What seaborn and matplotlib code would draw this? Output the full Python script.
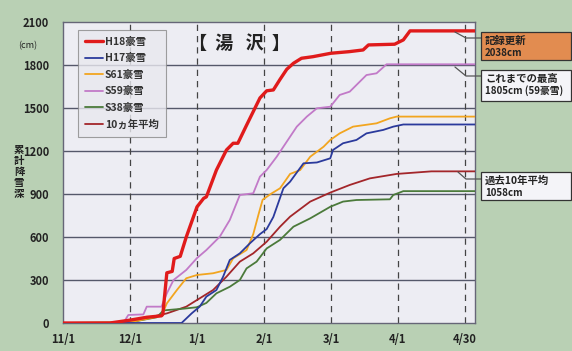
import matplotlib
matplotlib.use("Agg")
import matplotlib.pyplot as plt
import seaborn as sns
import pandas as pd
import numpy as np

# ---- data (x = months since 11/1, equal spacing per month; y = cumulative snowfall cm)
month_labels = ["11/1", "12/1", "1/1", "2/1", "3/1", "4/1", "4/30"]

h18_x = [0, 0.7, 1.0, 1.25, 1.47, 1.49, 1.55, 1.63, 1.66, 1.75, 1.84, 2.0, 2.1, 2.14, 2.29, 2.44, 2.54, 2.61, 2.74, 2.94, 3.04, 3.14, 3.24, 3.34, 3.44, 3.56, 3.73, 4.0, 4.27, 4.48, 4.56, 4.95, 5.08, 5.18, 6.15]
h18_y = [0, 0, 20, 40, 50, 60, 350, 360, 450, 465, 600, 810, 870, 880, 1067, 1207, 1254, 1254, 1380, 1570, 1620, 1626, 1700, 1770, 1812, 1847, 1858, 1882, 1893, 1905, 1940, 1945, 1975, 2038, 2038]

h17_x = [0, 1.77, 1.92, 2.04, 2.14, 2.29, 2.39, 2.49, 2.64, 2.79, 2.94, 3.04, 3.14, 3.29, 3.39, 3.59, 3.79, 3.99, 4.03, 4.18, 4.38, 4.53, 4.78, 4.93, 5.08, 6.15]
h17_y = [0, 0, 67, 114, 184, 230, 323, 440, 486, 556, 620, 655, 740, 940, 986, 1114, 1120, 1149, 1207, 1254, 1277, 1323, 1347, 1370, 1385, 1385]

s61_x = [0, 1.0, 1.47, 1.55, 1.7, 1.84, 2.0, 2.24, 2.44, 2.54, 2.74, 2.84, 2.92, 2.98, 3.1, 3.24, 3.39, 3.54, 3.69, 3.89, 3.99, 4.13, 4.33, 4.68, 4.88, 4.98, 6.15]
s61_y = [0, 5, 50, 137, 230, 312, 335, 347, 370, 451, 509, 620, 760, 860, 900, 940, 1040, 1067, 1160, 1230, 1277, 1323, 1370, 1393, 1428, 1440, 1440]

s59_x = [0, 0.9, 0.975, 1.2, 1.25, 1.47, 1.55, 1.65, 1.84, 2.0, 2.14, 2.34, 2.49, 2.64, 2.84, 2.94, 3.04, 3.19, 3.39, 3.49, 3.64, 3.79, 3.99, 4.13, 4.28, 4.53, 4.68, 4.83, 6.15]
s59_y = [0, 0, 56, 60, 114, 114, 207, 300, 370, 453, 509, 602, 719, 893, 905, 1021, 1067, 1160, 1300, 1370, 1440, 1498, 1509, 1591, 1614, 1730, 1742, 1805, 1805]

s38_x = [0, 1.0, 1.4, 1.5, 1.8, 2.0, 2.14, 2.29, 2.49, 2.64, 2.74, 2.89, 3.04, 3.24, 3.44, 3.69, 3.99, 4.18, 4.38, 4.88, 4.93, 5.08, 6.15]
s38_y = [0, 5, 40, 88, 100, 110, 140, 207, 253, 300, 381, 428, 520, 580, 672, 730, 811, 847, 858, 863, 893, 920, 920]

avg_x = [0, 0.7, 1.05, 1.4, 1.55, 1.84, 2.04, 2.24, 2.44, 2.64, 2.84, 3.04, 3.24, 3.39, 3.69, 3.99, 4.28, 4.58, 4.98, 5.5, 6.15]
avg_y = [0, 0, 10, 51, 67, 114, 172, 230, 323, 428, 486, 567, 672, 742, 847, 910, 963, 1009, 1040, 1058, 1058]

series_names = ["H18豪雪", "H17豪雪", "S61豪雪", "S59豪雪", "S38豪雪", "10ヵ年平均"]
series_x = [h18_x, h17_x, s61_x, s59_x, s38_x, avg_x]
series_y = [h18_y, h17_y, s61_y, s59_y, s38_y, avg_y]
colors = ["#e01b1b", "#2b3a9c", "#f2a51f", "#c27ac8", "#4b7a3a", "#a3262a"]
widths = [2.4, 1.3, 1.3, 1.3, 1.3, 1.3]

ylabel_text = "累計降雪深"

rows = []
for n, xs, ys in zip(series_names, series_x, series_y):
    for i, (a, b) in enumerate(zip(xs, ys)):
        rows.append({"series": n, "m": a, "v": b, "i": i})
df = pd.DataFrame(rows)

# ---- style
sns.set_theme(style="white")
plt.rcParams['font.family'] = ['Noto Sans CJK JP', 'DejaVu Sans']

BG = "#b9d0b4"
PANEL = "#ededf3"

fig = plt.figure(figsize=(5.72, 3.51), dpi=100, facecolor=BG)
ax = fig.add_axes([63/572, 1-323/351, (475-63)/572, (323-22)/351])
ax.set_facecolor(PANEL)

# grid
for yv in range(300, 2100, 300):
    ax.axhline(yv, color="#55586a", lw=1.0, zorder=1)
for xv in range(1, 7):
    ax.axvline(xv, color="#444444", lw=0.9, ls=(0, (5, 4)), zorder=1)

for n, c, w in zip(series_names[::-1], colors[::-1], widths[::-1]):
    sub = df[df.series == n]
    sns.lineplot(data=sub, x="m", y="v", ax=ax, color=c, lw=w, sort=False,
                 estimator=None, label=n, zorder=3)

ax.set_xlim(0, 6.15)
ax.set_ylim(0, 2100)
ax.set_xticks(range(7))
ax.set_xticklabels(month_labels)
ax.set_yticks(range(0, 2101, 300))
ax.set_xlabel("")
ax.set_ylabel("")
ax.tick_params(axis="both", length=0, labelsize=8, colors="#222222")
ax.tick_params(axis="x", pad=7)
ax.tick_params(axis="y", pad=10)
for t in ax.get_xticklabels() + ax.get_yticklabels():
    t.set_fontweight("bold")
for s in ax.spines.values():
    s.set_color("#666677")
    s.set_linewidth(1.0)

# legend
handles, labels = ax.get_legend_handles_labels()
order = [labels.index(n) for n in series_names]
leg = ax.legend([handles[i] for i in order], [labels[i] for i in order],
                loc="upper left", bbox_to_anchor=(0.036, 0.975), frameon=True,
                fontsize=7.5, handlelength=1.7, handletextpad=0.2, labelspacing=0.62,
                borderpad=0.7, borderaxespad=0.0, fancybox=False,
                facecolor="#e9e9ef", edgecolor="#888888")
leg.get_frame().set_linewidth(0.8)
for t in leg.get_texts():
    t.set_fontweight("bold")
    t.set_color("#333333")

# title
ax.text(2.64, 1950, "【  湯   沢  】", fontsize=13, fontweight="bold", ha="center", va="center",
        color="#222222")

# y label and unit
fig.text(28/572, 1-46/351, "(cm)", fontsize=6.5, ha="center", va="center", color="#222222")
for k, ch in enumerate(ylabel_text):
    fig.text(19/572, 1-(150 + k*11)/351, ch, fontsize=7.5, fontweight="bold",
             ha="center", va="center", color="#222222")

# annotation boxes with leader lines
def to_data(px, py):
    return ((px - 63) / 67, (323 - py) / 301 * 2100)

def leader(p0, p1, p2):
    xs, ys = zip(*[to_data(*p) for p in (p0, p1, p2)])
    ax.plot(xs, ys, color="#555555", lw=0.9, clip_on=False, zorder=4)

leader((455, 32), (466, 38), (481, 38))
leader((455, 67), (466, 76), (481, 76))
leader((458, 172), (466, 179), (481, 179))

def box(x0, y0, x1, y1, fc, lines):
    r = plt.Rectangle((x0/572, 1-y1/351), (x1-x0)/572, (y1-y0)/351, transform=fig.transFigure,
                      facecolor=fc, edgecolor="#333333", lw=0.9, zorder=5)
    fig.add_artist(r)
    fig.text((x0+4)/572, 1-(y0+9)/351, lines[0], fontsize=7.5, fontweight="bold",
             ha="left", va="center", color="#222222", zorder=6)
    fig.text((x0+4)/572, 1-(y0+21)/351, lines[1], fontsize=7, fontweight="bold",
             ha="left", va="center", color="#222222", zorder=6)

box(481, 32, 571, 60, "#e28c50", ["記録更新", "2038cm"])
box(481, 70, 571, 101, "#f4f4f8", ["これまでの最高", "1805cm (59豪雪)"])
box(481, 172, 571, 200, "#f4f4f8", ["過去10年平均", "1058cm"])

fig.savefig("out.png", dpi=100, facecolor=BG)
